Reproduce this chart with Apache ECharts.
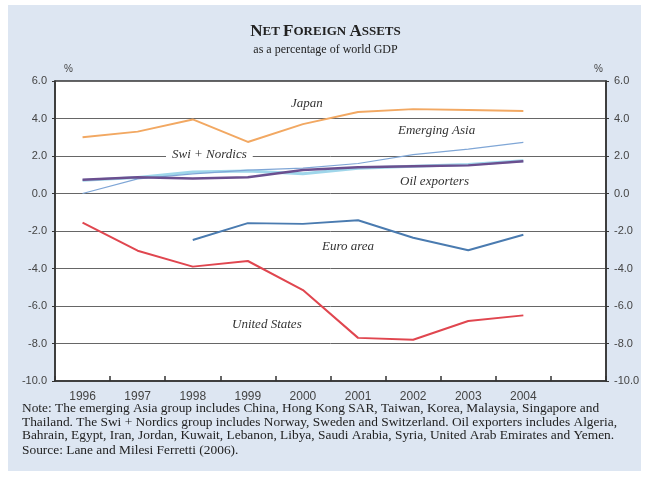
<!DOCTYPE html>
<html>
<head>
<meta charset="utf-8">
<script src="https://cdn.jsdelivr.net/npm/echarts@6/dist/echarts.min.js"></script>
<style>
  html, body { margin: 0; padding: 0; background: #fff; }
  #chart { width: 651px; height: 477px; }
</style>
</head>
<body>
<div id="chart"></div>
<script>
// years on the x axis (last slot is an empty category, as in the original)
const years = ['1996', '1997', '1998', '1999', '2000', '2001', '2002', '2003', '2004', '']

// net foreign assets, % of world GDP
const japan = [3.0, 3.3, 3.95, 2.75, 3.7, 4.35, 4.5, 4.45, 4.4]
const emergingAsia = [0.0, 0.78, 1.05, 1.25, 1.35, 1.6, 2.07, 2.37, 2.73]
const swiNordics = [0.7, 0.85, 1.15, 1.2, 1.05, 1.35, 1.45, 1.55, 1.75]
const oilExporters = [0.73, 0.87, 0.8, 0.87, 1.25, 1.4, 1.45, 1.5, 1.72]
const euroArea = [null, null, -2.48, -1.58, -1.62, -1.43, -2.36, -3.03, -2.2]
const unitedStates = [-1.55, -3.05, -3.9, -3.6, -5.15, -7.7, -7.8, -6.8, -6.5]

const yTicks = { min: -10, max: 6, step: 2 }

const serif = '"Liberation Serif", "DejaVu Serif", serif'
const sans = '"Liberation Sans", Arial, sans-serif'

const noteLines = [
  'Note: The emerging Asia group includes China, Hong Kong SAR, Taiwan, Korea, Malaysia, Singapore and',
  'Thailand. The Swi + Nordics group includes Norway, Sweden and Switzerland. Oil exporters includes Algeria,',
  'Bahrain, Egypt, Iran, Jordan, Kuwait, Lebanon, Libya, Saudi Arabia, Syria, United Arab Emirates and Yemen.',
  'Source: Lane and Milesi Ferretti (2006).'
]

const chart = echarts.init(document.getElementById('chart'))

function line(name, data, color, width, z) {
  return {
    name: name,
    type: 'line',
    data: data,
    symbol: 'none',
    connectNulls: false,
    z: z,
    lineStyle: { color: color, width: width },
    emphasis: { disabled: true }
  }
}

function seriesLabel(text, x, y, bg) {
  return {
    type: 'text',
    left: x,
    top: y,
    z: 50,
    style: {
      text: text,
      font: 'italic 13px ' + serif,
      fill: '#333',
      backgroundColor: bg ? '#fff' : 'transparent',
      padding: bg ? [0, 6] : 0
    }
  }
}

const yAxisBase = {
  type: 'value',
  min: yTicks.min,
  max: yTicks.max,
  interval: yTicks.step,
  axisLine: { show: true, lineStyle: { color: '#333', width: 1.5 } },
  axisTick: { show: true, length: 3, lineStyle: { color: '#333' } },
  axisLabel: {
    color: '#444',
    fontFamily: sans,
    fontSize: 11,
    formatter: v => v.toFixed(1)
  }
}

const options = {
  backgroundColor: '#fff',
  animation: false,
  title: {
    left: 'center',
    top: 18,
    itemGap: 4,
    text: '{b|N}{s|ET }{b|F}{s|OREIGN }{b|A}{s|SSETS}',
    textStyle: {
      rich: {
        b: { fontFamily: serif, fontSize: 17, color: '#222' },
        s: { fontFamily: serif, fontSize: 13, color: '#222' }
      }
    },
    subtext: 'as a percentage of world GDP',
    subtextStyle: { fontFamily: serif, fontSize: 12, color: '#222' }
  },
  grid: {
    left: 55,
    right: 45,
    top: 81,
    bottom: 96,
    show: true,
    backgroundColor: '#fff',
    borderColor: '#333',
    borderWidth: 1.5
  },
  xAxis: {
    type: 'category',
    data: years,
    boundaryGap: true,
    axisLine: { show: true, onZero: false, lineStyle: { color: '#333', width: 1.5 } },
    axisTick: { show: true, inside: true, length: 5, lineStyle: { color: '#333', width: 1.5 } },
    axisLabel: { color: '#444', fontFamily: sans, fontSize: 12, margin: 10, interval: 0 },
    splitLine: { show: false }
  },
  yAxis: [
    Object.assign({}, yAxisBase, {
      position: 'left',
      splitLine: { show: true, lineStyle: { color: '#666', width: 1 } }
    }),
    Object.assign({}, yAxisBase, {
      position: 'right',
      splitLine: { show: false }
    })
  ],
  series: [
    line('Japan', japan, '#f2a862', 2, 3),
    line('Swi + Nordics', swiNordics, '#9fd6ea', 3, 2),
    line('Emerging Asia', emergingAsia, '#7fa6d6', 1.2, 3),
    line('Oil exporters', oilExporters, '#6b4f8f', 2.5, 4),
    line('Euro area', euroArea, '#4a7bb0', 2, 3),
    line('United States', unitedStates, '#e0464f', 2, 3)
  ],
  graphic: [
    {
      type: 'rect',
      left: 8,
      top: 5,
      z: -10,
      shape: { width: 633, height: 466 },
      style: { fill: '#dde6f2' }
    },
    { type: 'text', left: 64, top: 64, style: { text: '%', font: '10px ' + sans, fill: '#444' } },
    { type: 'text', left: 594, top: 64, style: { text: '%', font: '10px ' + sans, fill: '#444' } },
    seriesLabel('Japan', 291, 97, false),
    seriesLabel('Emerging Asia', 398, 124, false),
    seriesLabel('Swi + Nordics', 166, 148, true),
    seriesLabel('Oil exporters', 400, 175, false),
    seriesLabel('Euro area', 322, 240, false),
    seriesLabel('United States', 232, 318, false)
  ].concat(noteLines.map((t, i) => ({
    type: 'text',
    left: 22,
    top: 402 + i * 13.5 + (i === 3 ? 1.5 : 0),
    style: { text: t, font: '13.4px ' + serif, fill: '#222' }
  })))
}

chart.setOption(options)
</script>
</body>
</html>
